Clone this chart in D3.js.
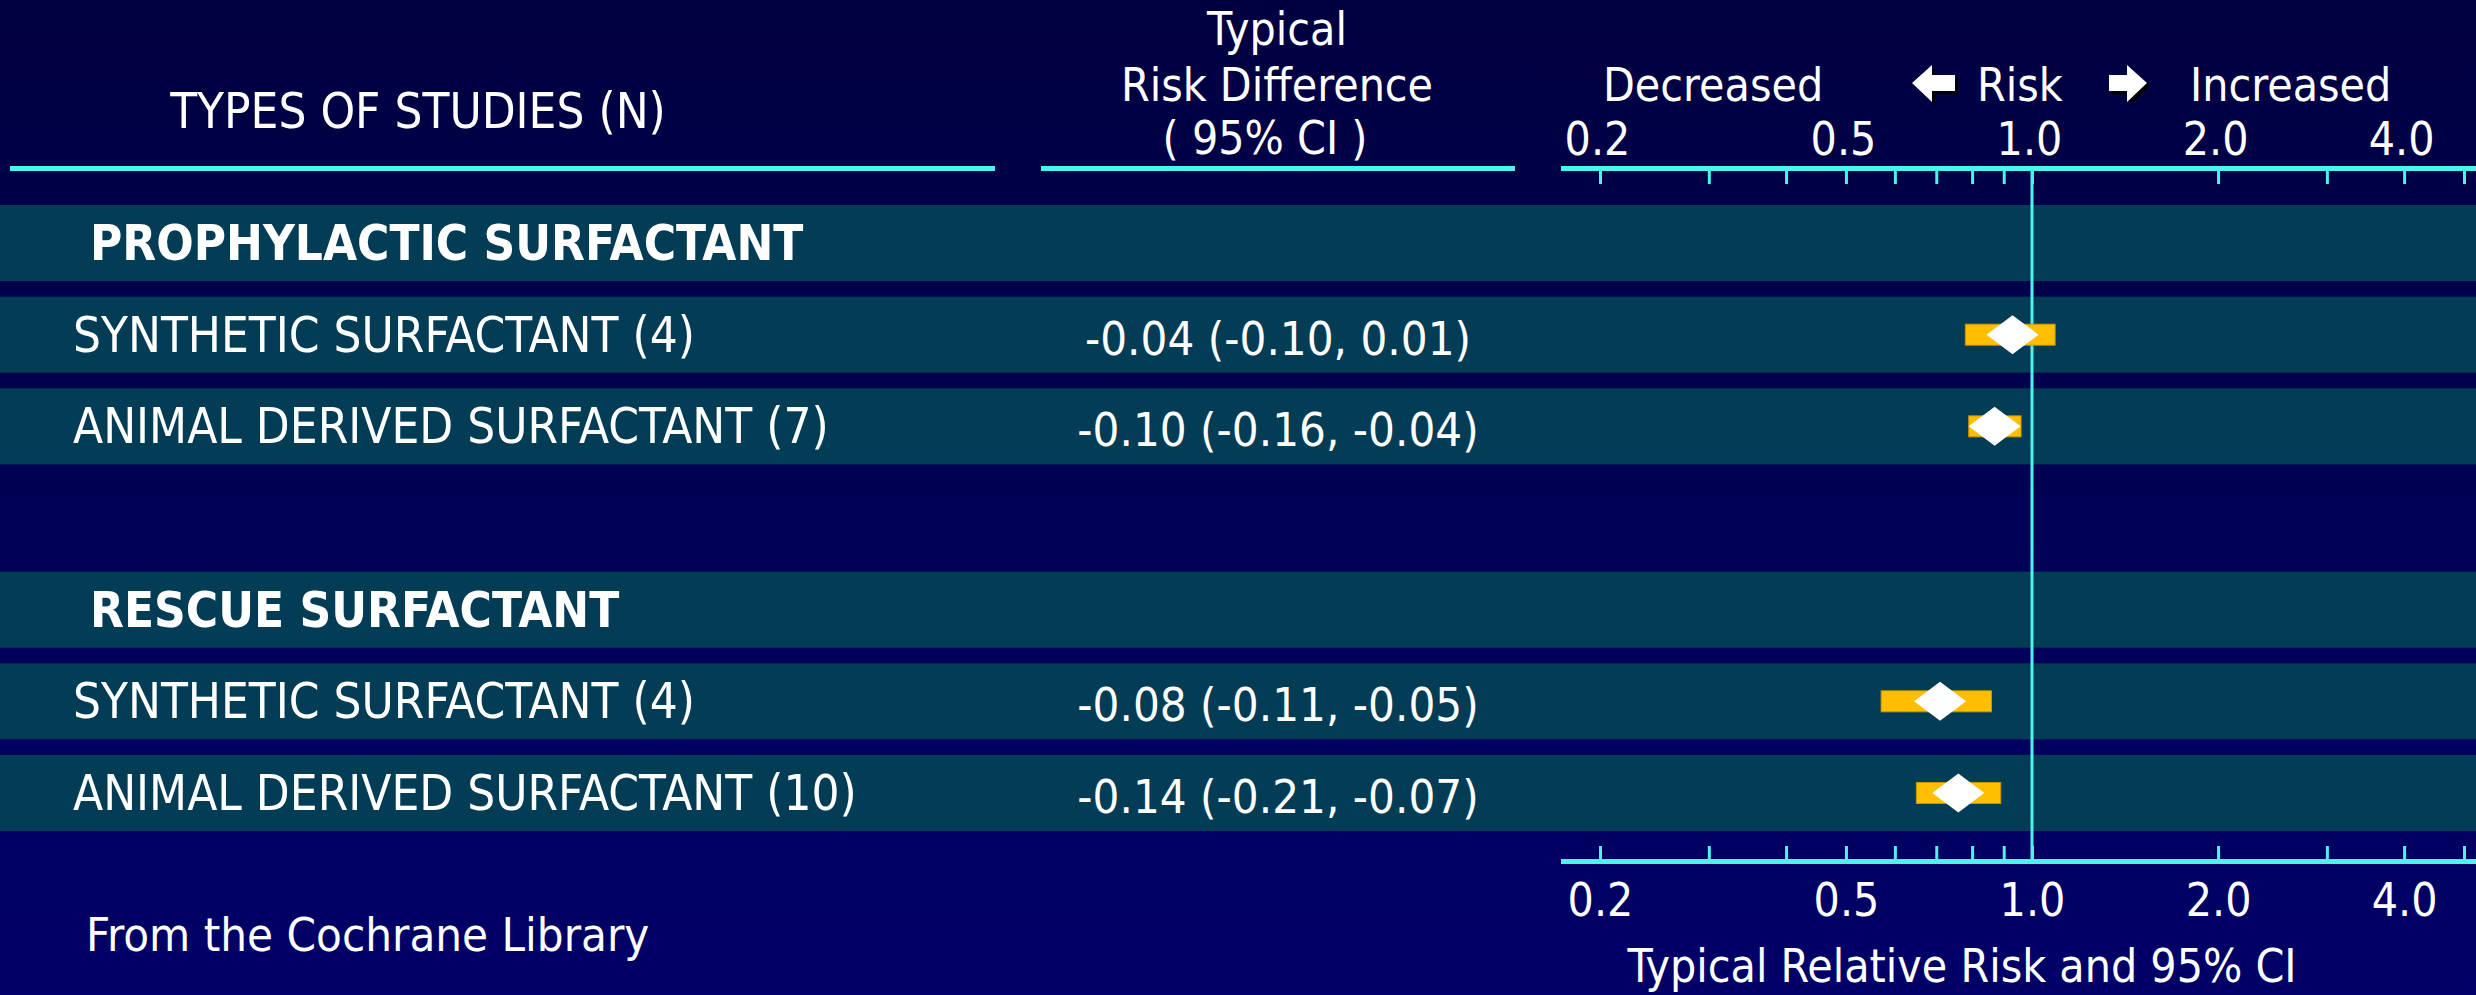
<!DOCTYPE html>
<html>
<head>
<meta charset="utf-8">
<script src="https://cdn.jsdelivr.net/npm/d3@7"></script>
<style>
  html, body { margin: 0; padding: 0; background: #000050; overflow: hidden; }
  svg { display: block; }
  text { font-family: "DejaVu Sans Condensed", "DejaVu Sans", sans-serif; font-stretch: condensed; fill: #ffffff; }
</style>
</head>
<body>
<svg id="chart" width="2476" height="995"></svg>
<script>
// Rows of the forest plot, top to bottom ("" marks the spacer row)
const rowLabels = [
  "PROPHYLACTIC SURFACTANT",
  "SYNTHETIC SURFACTANT (4)",
  "ANIMAL DERIVED SURFACTANT (7)",
  "",
  "RESCUE SURFACTANT",
  "SYNTHETIC SURFACTANT (4)",
  "ANIMAL DERIVED SURFACTANT (10)"
];
const rowKinds = ["group", "study", "study", "gap", "group", "study", "study"];

// Typical risk difference (95% CI) as printed
const riskDiffText = [
  null,
  "-0.04 (-0.10, 0.01)",
  "-0.10 (-0.16, -0.04)",
  null,
  null,
  "-0.08 (-0.11, -0.05)",
  "-0.14 (-0.21, -0.07)"
];

// Typical relative risk with 95% CI
const rrPoint = [null, 0.93, 0.87, null, null, 0.71, 0.76];
const rrLow   = [null, 0.78, 0.79, null, null, 0.57, 0.65];
const rrHigh  = [null, 1.09, 0.96, null, null, 0.86, 0.89];

// Relative risk axis
const minorTicks = [0.2, 0.3, 0.4, 0.5, 0.6, 0.7, 0.8, 0.9, 1, 2, 3, 4, 5];
const labelTicks = [0.2, 0.5, 1, 2, 4];

const W = 2476, H = 995;
const CYAN = "#4df2ea";
const BAND = "#033c55";
const ORANGE = "#ffbf00";

const svg = d3.select("#chart");

// background gradient
const defs = svg.append("defs");
const grad = defs.append("linearGradient").attr("id", "bg")
  .attr("x1", 0).attr("y1", 0).attr("x2", 0).attr("y2", 1);
grad.append("stop").attr("offset", "0%").attr("stop-color", "#000040");
grad.append("stop").attr("offset", "100%").attr("stop-color", "#000068");
svg.append("rect").attr("width", W).attr("height", H).attr("fill", "url(#bg)");

const x = d3.scaleLog().domain([0.2, 5]).range([1600, 2464]);
const y = d3.scaleBand()
  .domain(d3.range(rowLabels.length))
  .range([205, 831])
  .paddingInner(0.17)
  .paddingOuter(0);

const rows = rowLabels.map((label, i) => ({
  i, label, kind: rowKinds[i], rd: riskDiffText[i],
  pt: rrPoint[i], lo: rrLow[i], hi: rrHigh[i]
}));

// row bands
svg.append("g").selectAll("rect")
  .data(rows.filter(d => d.kind !== "gap"))
  .join("rect")
  .attr("x", 0).attr("width", W)
  .attr("y", d => y(d.i)).attr("height", y.bandwidth())
  .attr("fill", BAND);

// column headers
const head = svg.append("g");
head.append("text").attr("x", 418).attr("y", 128).attr("text-anchor", "middle")
  .attr("font-size", 49).text("TYPES OF STUDIES (N)");
head.append("text").attr("x", 1277).attr("y", 45).attr("text-anchor", "middle")
  .attr("font-size", 46).text("Typical");
head.append("text").attr("x", 1277).attr("y", 101).attr("text-anchor", "middle")
  .attr("font-size", 46).text("Risk Difference");
head.append("text").attr("x", 1265).attr("y", 154).attr("text-anchor", "middle")
  .attr("font-size", 46).attr("xml:space", "preserve").text("( 95% CI )");

head.append("text").attr("x", 1603).attr("y", 101).attr("font-size", 46).text("Decreased");
head.append("text").attr("x", 1977).attr("y", 101).attr("font-size", 46).text("Risk");
head.append("text").attr("x", 2190).attr("y", 101).attr("font-size", 46).text("Increased");

// block arrows around "Risk"
const leftArrow = "M0,18 L20,0 L20,10 L43,10 L43,26 L20,26 L20,37 Z";
const rightArrow = "M0,10 L18,10 L18,0 L38,18 L18,37 L18,26 L0,26 Z";
[[leftArrow, 1912, 65], [rightArrow, 2109, 65]].forEach(([p, tx, ty]) => {
  head.append("path").attr("d", p).attr("fill", "#000000")
    .attr("transform", `translate(${tx + 3},${ty + 3})`);
  head.append("path").attr("d", p).attr("fill", "#ffffff")
    .attr("transform", `translate(${tx},${ty})`);
});

// header rules
const rule = (x1, x2, yy) => svg.append("line")
  .attr("x1", x1).attr("x2", x2).attr("y1", yy).attr("y2", yy)
  .attr("stroke", CYAN).attr("stroke-width", 5);
rule(10, 995, 168.5);
rule(1041, 1515, 168.5);

// top axis: rule, ticks hanging below, labels above
const topY = 168.5;
rule(x(0.2) - 39, W, topY);
const topTicks = svg.append("g").attr("transform", `translate(0,${topY + 2.5})`)
  .call(d3.axisBottom(x).tickValues(minorTicks).tickSize(13).tickFormat(""));
topTicks.select(".domain").remove();
topTicks.selectAll("line").attr("stroke", CYAN).attr("stroke-width", 3);

const topLabels = svg.append("g").attr("transform", `translate(-3,${topY})`)
  .call(d3.axisTop(x).tickValues(labelTicks).tickSize(0).tickPadding(14)
    .tickFormat(d3.format(".1f")));
topLabels.select(".domain").remove();
topLabels.selectAll("text").attr("font-size", 46).attr("fill", "#ffffff")
  .attr("font-family", null);

// bottom axis: rule, ticks rising above, labels below
const botY = 861.5;
rule(x(0.2) - 39, W, botY);
const botTicks = svg.append("g").attr("transform", `translate(0,${botY - 2.5})`)
  .call(d3.axisTop(x).tickValues(minorTicks).tickSize(13).tickFormat(""));
botTicks.select(".domain").remove();
botTicks.selectAll("line").attr("stroke", CYAN).attr("stroke-width", 3);

const botLabels = svg.append("g").attr("transform", `translate(0,${botY})`)
  .call(d3.axisBottom(x).tickValues(labelTicks).tickSize(0).tickPadding(22)
    .tickFormat(d3.format(".1f")));
botLabels.select(".domain").remove();
botLabels.selectAll("text").attr("font-size", 46).attr("fill", "#ffffff")
  .attr("font-family", null);

svg.append("text").attr("x", 1962).attr("y", 982).attr("text-anchor", "middle")
  .attr("font-size", 46).text("Typical Relative Risk and 95% CI");
svg.append("text").attr("x", 86).attr("y", 951)
  .attr("font-size", 47).text("From the Cochrane Library");

// line of no effect
svg.append("line")
  .attr("x1", x(1)).attr("x2", x(1))
  .attr("y1", topY + 2.5).attr("y2", botY - 2.5)
  .attr("stroke", CYAN).attr("stroke-width", 3);

// row text
const mid = d => y(d.i) + y.bandwidth() / 2;
svg.append("g").selectAll("text")
  .data(rows.filter(d => d.kind !== "gap"))
  .join("text")
  .attr("x", d => d.kind === "group" ? 90 : 73)
  .attr("y", d => mid(d) + 17)
  .attr("font-size", 49)
  .attr("font-weight", d => d.kind === "group" ? "bold" : "normal")
  .text(d => d.label);

svg.append("g").selectAll("text")
  .data(rows.filter(d => d.rd))
  .join("text")
  .attr("x", 1278)
  .attr("y", d => mid(d) + 20)
  .attr("text-anchor", "middle")
  .attr("font-size", 47)
  .text(d => d.rd);

// confidence intervals and point estimates
const est = rows.filter(d => d.pt != null);
svg.append("g").selectAll("rect")
  .data(est)
  .join("rect")
  .attr("x", d => x(d.lo))
  .attr("width", d => x(d.hi) - x(d.lo))
  .attr("y", d => mid(d) - 10.5)
  .attr("height", 21)
  .attr("fill", ORANGE)
  .attr("stroke", "#c99600").attr("stroke-width", 1);

const dw = 26, dh = 19.5;
svg.append("g").selectAll("path")
  .data(est)
  .join("path")
  .attr("d", d => {
    const cx = x(d.pt), cy = mid(d);
    return `M${cx - dw},${cy} L${cx},${cy - dh} L${cx + dw},${cy} L${cx},${cy + dh} Z`;
  })
  .attr("fill", "#ffffff");
</script>
</body>
</html>
